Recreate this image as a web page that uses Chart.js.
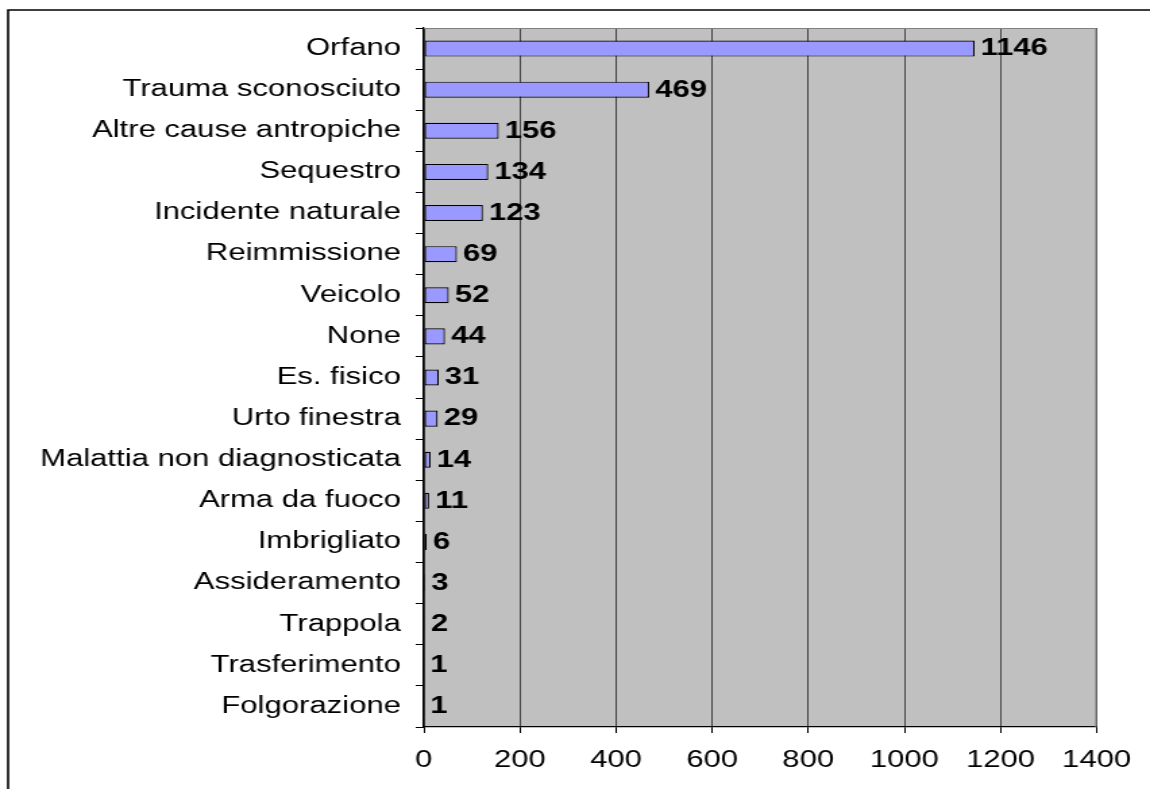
<!DOCTYPE html>
<html>
<head>
<meta charset="utf-8">
<script src="https://cdn.jsdelivr.net/npm/chart.js@4/dist/chart.umd.min.js"></script>
<style>
  html, body { margin: 0; padding: 0; background: #fff; }
  #chart { display: block; }
</style>
</head>
<body>
<!-- the reference is stretched sideways, so the canvas is drawn narrow and shown wide -->
<canvas id="chart" width="852" height="789" style="width:1150px;height:789px"></canvas>
<script>
const categories = [
    'Orfano', 'Trauma sconosciuto', 'Altre cause antropiche', 'Sequestro',
    'Incidente naturale', 'Reimmissione', 'Veicolo', 'None', 'Es. fisico',
    'Urto finestra', 'Malattia non diagnosticata', 'Arma da fuoco',
    'Imbrigliato', 'Assideramento', 'Trappola', 'Trasferimento', 'Folgorazione'
];
const counts = [1146, 469, 156, 134, 123, 69, 52, 44, 31, 29, 14, 11, 6, 3, 2, 1, 1];
const xTicks = [0, 200, 400, 600, 800, 1000, 1200, 1400];

const FONT = "'Liberation Sans', Arial, sans-serif";

// gray plot background, frame and value labels
const excelLook = {
    id: 'excelLook',
    beforeDraw: function(chart) {
        const ctx = chart.ctx;
        const a = chart.chartArea;
        ctx.save();
        ctx.fillStyle = '#c0c0c0';
        ctx.fillRect(a.left, a.top, a.right - a.left, a.bottom - a.top);
        // outer frame (top and left)
        ctx.strokeStyle = '#000';
        ctx.lineWidth = 1.6;
        ctx.beginPath();
        ctx.moveTo(chart.width, 10);
        ctx.lineTo(6, 10);
        ctx.lineTo(6, chart.height);
        ctx.stroke();
        ctx.restore();
    },
    beforeDatasetsDraw: function(chart) {
        const ctx = chart.ctx;
        const a = chart.chartArea;
        ctx.save();
        ctx.strokeStyle = '#808080';
        ctx.lineWidth = 1;
        ctx.beginPath();
        ctx.moveTo(a.left, a.top + 0.5);
        ctx.lineTo(a.right - 0.5, a.top + 0.5);
        ctx.lineTo(a.right - 0.5, a.bottom);
        ctx.stroke();
        ctx.restore();
    },
    afterDatasetsDraw: function(chart) {
        const ctx = chart.ctx;
        const meta = chart.getDatasetMeta(0);
        ctx.save();
        ctx.font = 'bold 23px ' + FONT;
        ctx.fillStyle = '#000';
        ctx.textAlign = 'left';
        ctx.textBaseline = 'middle';
        meta.data.forEach((bar, i) => {
            ctx.fillText(String(counts[i]), bar.x + 4.5, bar.y + 0.5);
        });
        ctx.restore();
    }
};

new Chart(document.getElementById('chart'), {
    type: 'bar',
    data: {
        labels: categories,
        datasets: [{
            data: counts,
            backgroundColor: '#9999ff',
            borderColor: '#000',
            borderWidth: 1.2,
            borderSkipped: false,
            barPercentage: 0.39,
            categoryPercentage: 1
        }]
    },
    options: {
        indexAxis: 'y',
        responsive: false,
        animation: false,
        layout: { padding: { left: 0, top: 28, right: 39, bottom: 0 } },
        plugins: {
            legend: { display: false },
            title: { display: false },
            tooltip: { enabled: false }
        },
        scales: {
            x: {
                min: 0,
                max: 1400,
                afterBuildTicks: scale => { scale.ticks = xTicks.map(v => ({ value: v })); },
                afterFit: scale => { scale.height = 62; },
                grid: { color: '#474747', lineWidth: 1, tickLength: 6, tickColor: '#000' },
                border: { color: '#000', width: 1.2 },
                ticks: {
                    color: '#000',
                    padding: 14,
                    font: { family: FONT, size: 23 },
                    callback: value => String(value)
                }
            },
            y: {
                afterFit: scale => { scale.width = 314; },
                grid: { drawOnChartArea: false, tickLength: 6, tickColor: '#000', offset: true },
                border: { color: '#000', width: 1.3 },
                ticks: { color: '#000', padding: 11, autoSkip: false, font: { family: FONT, size: 23 } }
            }
        }
    },
    plugins: [excelLook]
});
</script>
</body>
</html>
